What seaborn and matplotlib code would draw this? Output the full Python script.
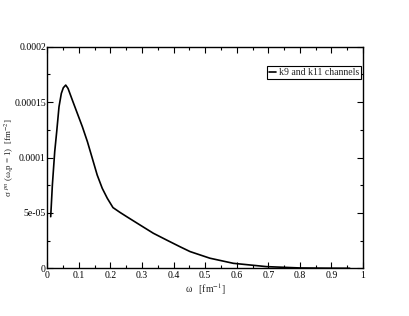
import numpy as np
import pandas as pd
import matplotlib
matplotlib.use("Agg")
import matplotlib.pyplot as plt
from matplotlib.ticker import MultipleLocator, FixedLocator
import seaborn as sns

omega = [0.0107, 0.016, 0.0234, 0.0297, 0.037, 0.0444, 0.0507, 0.0583, 0.0656,
         0.0792, 0.095, 0.111, 0.127, 0.1425, 0.158, 0.174, 0.190, 0.208,
         0.23, 0.2515, 0.2936, 0.336, 0.378, 0.42, 0.452, 0.515, 0.589,
         0.694, 0.80, 0.88, 0.958]
sigma = [4.66e-5, 7.52e-5, 1.052e-4, 1.233e-4, 1.458e-4, 1.579e-4, 1.63e-4,
         1.654e-4, 1.624e-4, 1.519e-4, 1.399e-4, 1.278e-4, 1.143e-4, 0.993e-4,
         0.842e-4, 0.722e-4, 0.632e-4, 0.548e-4, 0.505e-4, 0.466e-4, 0.391e-4,
         0.316e-4, 0.255e-4, 0.195e-4, 0.151e-4, 0.091e-4, 0.045e-4,
         0.015e-4, 0.003e-4, 0.001e-4, 0.0]
series_name = "k9 and k11 channels"

ytick_vals = [0, 5e-05, 0.0001, 0.00015, 0.0002]
ytick_labels = ["0", "5e-05", "0.0001", "0.00015", "0.0002"]
xtick_vals = [0, 0.1, 0.2, 0.3, 0.4, 0.5, 0.6, 0.7, 0.8, 0.9, 1]
xtick_labels = ["0", "0.1", "0.2", "0.3", "0.4", "0.5", "0.6", "0.7", "0.8", "0.9", "1"]

df = pd.DataFrame({"omega": omega, "sigma": sigma, "series": series_name})

sns.set_style("ticks")
plt.rcParams["font.family"] = ["Liberation Serif", "DejaVu Serif"]
plt.rcParams["mathtext.fontset"] = "stix"

fig = plt.figure(figsize=(4.09, 3.16), dpi=100)
ax = fig.add_axes([0.1157, 0.151, 0.7718, 0.701])

sns.lineplot(data=df, x="omega", y="sigma", hue="series", palette=["black"],
             linewidth=1.2, ax=ax)

ax.set_xlim(0, 1)
ax.set_ylim(0, 0.0002)
ax.xaxis.set_major_locator(FixedLocator(xtick_vals))
ax.set_xticklabels(xtick_labels)
ax.yaxis.set_major_locator(FixedLocator(ytick_vals))
ax.set_yticklabels(ytick_labels)
ax.xaxis.set_minor_locator(MultipleLocator(0.05))
ax.yaxis.set_minor_locator(MultipleLocator(2.5e-5))
ax.tick_params(which="both", direction="in", top=True, right=True, labelsize=7,
               width=0.8, colors="black")
ax.tick_params(axis="y", pad=1)
ax.tick_params(axis="x", pad=2)
ax.tick_params(which="major", length=4)
ax.tick_params(which="minor", length=2)
for s in ax.spines.values():
    s.set_linewidth(1.0)
    s.set_color("black")

ax.set_xlabel(r"ω   [fm$^{-1}$]", fontsize=7, labelpad=1)
ax.set_ylabel(r"σ $^{pn}$ (ω,p = 1)  [fm$^{-2}$]", fontsize=6.5)
ax.yaxis.set_label_coords(-0.1, 0.5)

leg = ax.legend(loc="upper right", bbox_to_anchor=(0.995, 0.912), fontsize=7,
                frameon=True, fancybox=False, edgecolor="black", framealpha=1,
                handlelength=0.8, borderpad=0.2, handletextpad=0.3,
                borderaxespad=0)
leg.get_frame().set_linewidth(0.8)
for h in leg.get_lines():
    h.set_linewidth(1.2)

fig.savefig("out.png", dpi=100)
